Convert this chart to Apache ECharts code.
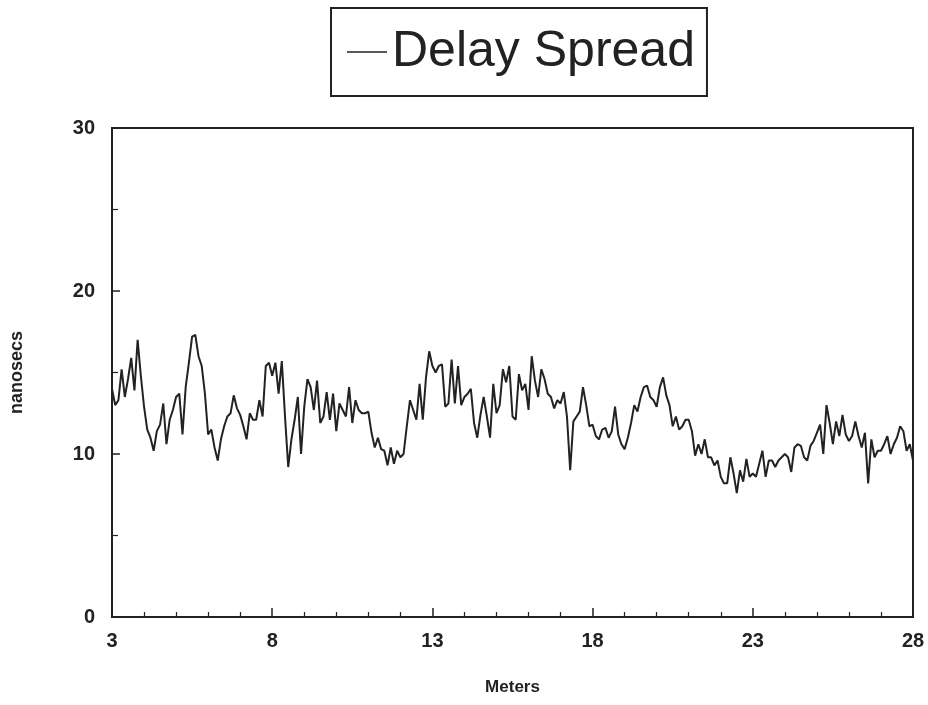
<!DOCTYPE html>
<html>
<head>
<meta charset="utf-8">
<title>Delay Spread</title>
<script src="https://cdn.jsdelivr.net/npm/echarts@6/dist/echarts.min.js"></script>
<style>
  html, body { margin: 0; padding: 0; background: #fff; }
  #chart { width: 928px; height: 705px; }
</style>
</head>
<body>
<div id="chart"></div>
<script>
// distance in meters, sampled every 0.1 m from 3 to 28
var startMeter = 3;
var stepMeter = 0.1;
// delay spread readings (nanosecs), one per sample
var delaySpread = [
    14.0, 13.0, 13.3, 15.2, 13.5, 14.6, 15.9, 13.9, 17.0, 14.8,
    12.9, 11.5, 11.0, 10.2, 11.4, 11.8, 13.1, 10.6, 12.1, 12.7,
    13.5, 13.7, 11.2, 14.1, 15.6, 17.2, 17.3, 16.0, 15.4, 13.7,
    11.2, 11.5, 10.4, 9.6, 10.9, 11.7, 12.3, 12.5, 13.6, 12.8,
    12.4, 11.7, 10.9, 12.5, 12.1, 12.1, 13.3, 12.3, 15.4, 15.6,
    14.8, 15.6, 13.7, 15.7, 12.3, 9.2, 10.9, 12.1, 13.5, 10.0,
    12.9, 14.6, 14.1, 12.7, 14.5, 11.9, 12.3, 13.8, 12.1, 13.7,
    11.4, 13.1, 12.7, 12.3, 14.1, 11.9, 13.3, 12.7, 12.5, 12.5,
    12.6, 11.3, 10.4, 11.0, 10.3, 10.2, 9.3, 10.4, 9.4, 10.2,
    9.8, 10.0, 11.7, 13.3, 12.7, 12.1, 14.3, 12.1, 14.7, 16.3,
    15.4, 15.0, 15.4, 15.5, 12.9, 13.1, 15.8, 13.1, 15.4, 13.0,
    13.5, 13.7, 14.0, 11.9, 11.0, 12.4, 13.5, 12.3, 11.0, 14.3,
    12.5, 13.0, 15.2, 14.4, 15.4, 12.3, 12.1, 14.9, 13.9, 14.3,
    12.7, 16.0, 14.5, 13.5, 15.2, 14.6, 13.7, 13.5, 12.8, 13.3,
    13.1, 13.8, 12.3, 9.0, 12.0, 12.3, 12.6, 14.1, 13.0, 11.7,
    11.8, 11.1, 10.9, 11.5, 11.6, 11.0, 11.4, 12.9, 11.2, 10.6,
    10.3, 11.0, 11.9, 13.0, 12.6, 13.5, 14.1, 14.2, 13.5, 13.3,
    12.9, 14.1, 14.7, 13.6, 13.0, 11.7, 12.3, 11.5, 11.7, 12.1,
    12.1, 11.4, 9.9, 10.6, 10.0, 10.9, 9.8, 9.8, 9.3, 9.6,
    8.6, 8.2, 8.2, 9.8, 8.8, 7.6, 9.0, 8.3, 9.7, 8.6,
    8.8, 8.6, 9.4, 10.2, 8.6, 9.6, 9.6, 9.2, 9.6, 9.8,
    10.0, 9.8, 8.9, 10.4, 10.6, 10.5, 9.8, 9.6, 10.5, 10.8,
    11.3, 11.8, 10.0, 13.0, 11.9, 10.6, 12.0, 11.1, 12.4, 11.2,
    10.8, 11.1, 12.0, 11.1, 10.4, 11.3, 8.2, 10.9, 9.8, 10.2,
    10.2, 10.6, 11.1, 10.0, 10.6, 11.0, 11.7, 11.4, 10.2, 10.6,
    9.6
];
// tick labels
var xTicks = [3, 8, 13, 18, 23, 28];
var yTicks = [0, 10, 20, 30];

(function(window){
    var ink = '#222',
        fontName = '"Liberation Sans", Arial, sans-serif',
        chart = echarts.init(document.getElementById('chart'));

    function buildPoints(){
        var pts = [];
        delaySpread.forEach(function(v, i){
            pts.push([+(startMeter + i * stepMeter).toFixed(2), v]);
        });
        return pts;
    }

    var option = {
        backgroundColor: '#fff',
        animation: false,
        legend: {
            left: 331,
            top: 8,
            padding: [19, 12, 19, 16],
            borderColor: ink,
            borderWidth: 2,
            icon: 'rect',
            itemWidth: 40,
            itemHeight: 1.5,
            itemGap: 0,
            textStyle: { fontSize: 50, color: ink, fontFamily: fontName },
            data: ['Delay Spread']
        },
        grid: {
            left: 112, right: 15, top: 128, bottom: 88,
            show: true,
            borderColor: ink,
            borderWidth: 2
        },
        xAxis: {
            type: 'value',
            min: xTicks[0],
            max: xTicks[xTicks.length - 1],
            interval: 5,
            name: 'Meters',
            nameLocation: 'middle',
            nameGap: 62,
            nameTextStyle: { fontSize: 17, fontWeight: 'bold', color: ink, fontFamily: fontName },
            axisLine: { lineStyle: { color: ink, width: 2 } },
            axisTick: { inside: true, length: 9, lineStyle: { color: ink, width: 1.5 } },
            minorTick: { show: true, splitNumber: 5, length: 5, lineStyle: { color: ink, width: 1.2 } },
            splitLine: { show: false },
            axisLabel: { margin: 14, fontSize: 20, fontWeight: 'bold', color: ink, fontFamily: fontName }
        },
        yAxis: {
            type: 'value',
            min: yTicks[0],
            max: yTicks[yTicks.length - 1],
            interval: 10,
            name: 'nanosecs',
            nameLocation: 'middle',
            nameGap: 86,
            nameTextStyle: { fontSize: 18, fontWeight: 'bold', color: ink, fontFamily: fontName },
            axisLine: { lineStyle: { color: ink, width: 2 } },
            axisTick: { inside: true, length: 8, lineStyle: { color: ink, width: 1.5 } },
            minorTick: { show: true, splitNumber: 2, length: 6, lineStyle: { color: ink, width: 1.2 } },
            splitLine: { show: false },
            axisLabel: { margin: 17, fontSize: 20, fontWeight: 'bold', color: ink, fontFamily: fontName }
        },
        series: [{
            name: 'Delay Spread',
            type: 'line',
            symbol: 'none',
            color: ink,
            lineStyle: { color: ink, width: 2 },
            data: buildPoints()
        }]
    };
    chart.setOption(option);
})(window);
</script>
</body>
</html>
